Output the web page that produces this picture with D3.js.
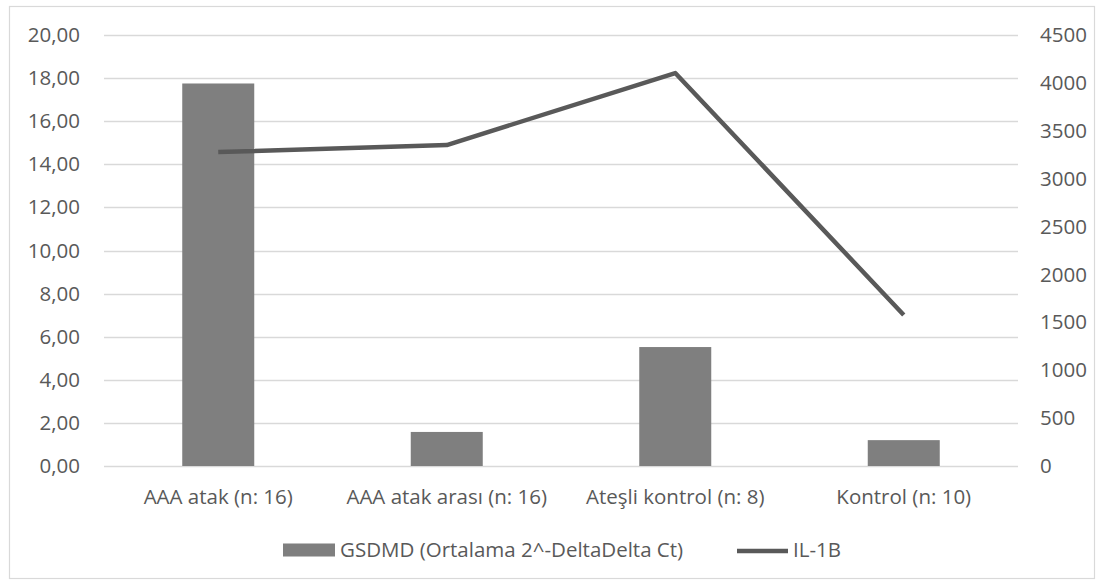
<!DOCTYPE html>
<html><head><meta charset="utf-8">
<script src="https://cdn.jsdelivr.net/npm/d3@7"></script>
<style>body{margin:0;background:#fff;}svg{display:block;font-family:"Open Sans",sans-serif;}</style>
</head><body><svg id="c" width="1103" height="585"></svg>
<script>
const categories = ["AAA atak (n: 16)", "AAA atak arası (n: 16)", "Ateşli kontrol (n: 8)", "Kontrol (n: 10)"];
const gsdmdValues = [17.75, 1.58, 5.52, 1.2];
const il1bValues = [3278, 3351, 4103, 1577];
const leftTicks = [0,2,4,6,8,10,12,14,16,18,20];
const rightTicks = [0,500,1000,1500,2000,2500,3000,3500,4000,4500];
const seriesNames = ["GSDMD (Ortalama 2^-DeltaDelta Ct)", "IL-1B"];

const svg = d3.select("#c");
const m = {left:104, right:1018, top:35, bottom:466};
const textColor = "#595959";
const fs = "20.5px";

svg.append("rect").attr("x",9.5).attr("y",6.5).attr("width",1085).attr("height",572)
  .attr("fill","#fff").attr("stroke","#d9d9d9").attr("stroke-width",1.2);

const x = d3.scaleBand().domain(categories).range([m.left,m.right]).paddingInner(0).paddingOuter(0);
const yL = d3.scaleLinear().domain([0,20]).range([m.bottom,m.top]);
const yR = d3.scaleLinear().domain([0,4500]).range([m.bottom,m.top]);

// gridlines
svg.append("g").selectAll("line").data(leftTicks).join("line")
  .attr("x1",m.left).attr("x2",m.right)
  .attr("y1",d=>Math.round(yL(d))+0.5).attr("y2",d=>Math.round(yL(d))+0.5)
  .attr("stroke","#d9d9d9").attr("stroke-width",1.3);

// left axis
const fmt = d => d3.format(".2f")(d).replace(".", ",");
const la = svg.append("g").attr("transform",`translate(${m.left},0)`)
  .call(d3.axisLeft(yL).tickValues(leftTicks).tickFormat(fmt).tickSize(0).tickPadding(24));
la.select(".domain").remove();
la.selectAll("text").attr("fill",textColor).style("font-size",fs).style("font-family","'Open Sans',sans-serif");

// right axis
const ra = svg.append("g").attr("transform",`translate(${m.right},0)`)
  .call(d3.axisRight(yR).tickValues(rightTicks).tickFormat(d3.format("d")).tickSize(0).tickPadding(22));
ra.select(".domain").remove();
ra.selectAll("text").attr("fill",textColor).style("font-size",fs).style("font-family","'Open Sans',sans-serif");

// bottom axis
const ba = svg.append("g").attr("transform",`translate(0,${m.bottom})`)
  .call(d3.axisBottom(x).tickSize(0).tickPadding(23));
ba.select(".domain").remove();
ba.selectAll("text").attr("fill",textColor).style("font-size",fs).style("font-family","'Open Sans',sans-serif");

// bars
const bw = 72;
svg.append("g").selectAll("rect").data(gsdmdValues).join("rect")
  .attr("x",(d,i)=>x(categories[i])+x.bandwidth()/2-bw/2)
  .attr("width",bw)
  .attr("y",d=>yL(d)).attr("height",d=>yL(0)-yL(d))
  .attr("fill","#7f7f7f");

// line
const line = d3.line().x((d,i)=>x(categories[i])+x.bandwidth()/2).y(d=>yR(d));
svg.append("path").datum(il1bValues).attr("d",line)
  .attr("fill","none").attr("stroke","#595959").attr("stroke-width",4.5).attr("stroke-linejoin","round");

// legend
const lg = svg.append("g");
const ly = 550;
lg.append("rect").attr("x",283).attr("y",ly-6.5).attr("width",52).attr("height",13).attr("fill","#7f7f7f");
lg.append("text").attr("x",340).attr("y",ly).attr("dy","0.35em").text(seriesNames[0])
  .attr("fill",textColor).style("font-size",fs);
lg.append("line").attr("x1",737).attr("x2",788).attr("y1",ly+1).attr("y2",ly+1)
  .attr("stroke","#595959").attr("stroke-width",4.5);
lg.append("text").attr("x",793).attr("y",ly).attr("dy","0.35em").text(seriesNames[1])
  .attr("fill",textColor).style("font-size",fs);
</script></body></html>
